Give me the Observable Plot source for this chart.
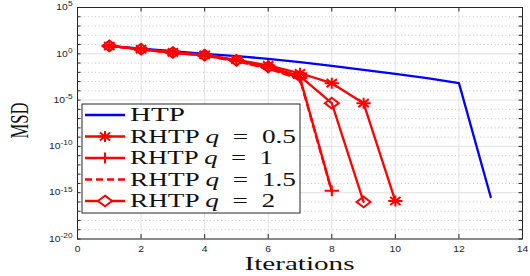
<!DOCTYPE html>
<html><head><meta charset="utf-8">
<script src="https://cdn.jsdelivr.net/npm/d3@7"></script>
<script src="https://cdn.jsdelivr.net/npm/@observablehq/plot@0.6"></script>
<style>html,body{margin:0;padding:0;background:#fff} #chart svg{display:block}</style>
</head><body><div id="chart"></div>
<script>
// ---- data (log10 of MSD) ----
const iterations = [1,2,3,4,5,6,7,8,9,10,11,12,13];
const htpLog     = [0.85,0.55,0.28,0.0,-0.25,-0.54,-0.9,-1.3,-1.73,-2.16,-2.63,-3.17,-15.47];
const rhtp05Log  = [0.85,0.5,0.15,-0.12,-0.65,-1.25,-2.1,-3.17,-5.33,-15.9];
const rhtp1Log   = [0.85,0.48,0.12,-0.18,-0.75,-1.5,-2.6,-14.8];
const rhtp15Log  = [0.85,0.46,0.1,-0.2,-0.8,-1.6,-2.75,-14.9];
const rhtp2Log   = [0.85,0.5,0.14,-0.15,-0.7,-1.4,-2.4,-5.33,-16.0];
const seriesNames = ["HTP","RHTP q = 0.5","RHTP q = 1","RHTP q = 1.5","RHTP q = 2"];
const xTicks = [0,2,4,6,8,10,12,14];
const yMajorExp = [5,0,-5,-10,-15,-20];
const yMinorExp = d3.range(5,-21,-1);
const xLabel = "Iterations";
const yLabel = "MSD";

const W = 530, H = 276, ml = 77, mr = 8, mt = 7, mb = 37.5;
const plotW = W - ml - mr, plotH = H - mt - mb;
const RED = "#ff0000", BLUE = "#0000ff", AX = "#262626";
const LW = 2.3, MW = 2;

function rows(vals, name){ return vals.map((v,i)=>({x: iterations[i], y: Math.pow(10, v), s: name})); }
const dHTP = rows(htpLog, seriesNames[0]);
const d05 = rows(rhtp05Log, seriesNames[1]);
const d1 = rows(rhtp1Log, seriesNames[2]);
const d15 = rows(rhtp15Log, seriesNames[3]);
const d2 = rows(rhtp2Log, seriesNames[4]);

const plot = Plot.plot({
  width: W, height: H,
  marginLeft: ml, marginRight: mr, marginTop: mt, marginBottom: mb,
  style: {background: "#fff", overflow: "visible"},
  x: {domain:[0,14], axis: null},
  y: {type:"log", domain:[1e-20,1e5], axis: null},
  marks: [
    Plot.ruleY(yMinorExp.filter(e => e % 5 !== 0).map(e => Math.pow(10,e)), {stroke:"#c4c4c4", strokeWidth:1, strokeDasharray:"1,2.6"}),
    Plot.ruleY(yMajorExp.map(e => Math.pow(10,e)), {stroke:"#e2e2e2", strokeWidth:1}),
    Plot.ruleX(xTicks, {stroke:"#e2e2e2", strokeWidth:1}),
    Plot.line(dHTP, {x:"x", y:"y", stroke: BLUE, strokeWidth: LW}),
    Plot.line(d15, {x:"x", y:"y", stroke: RED, strokeWidth: LW, strokeDasharray:"7,4"}),
    Plot.line(d1, {x:"x", y:"y", stroke: RED, strokeWidth: LW}),
    Plot.line(d2, {x:"x", y:"y", stroke: RED, strokeWidth: LW}),
    Plot.line(d05, {x:"x", y:"y", stroke: RED, strokeWidth: LW}),
    Plot.dot(d1, {x:"x", y:"y", symbol:"plus", r:3.63, stroke: RED, strokeWidth: MW}),
    Plot.dot(d2, {x:"x", y:"y", symbol:"diamond2", r:4.82, stroke: RED, fill:"none", strokeWidth: MW}),
    Plot.dot(d05, {x:"x", y:"y", symbol:"plus", r:3.63, stroke: RED, strokeWidth: MW}),
    Plot.dot(d05, {x:"x", y:"y", symbol:"times", r:3.72, stroke: RED, strokeWidth: MW}),
    Plot.frame({stroke: AX, strokeWidth: 1}),
    Plot.tickY(yMinorExp.map(e => Math.pow(10,e)), {stroke: AX, insetRight: plotW - 3.5}),
    Plot.tickY(yMinorExp.map(e => Math.pow(10,e)), {stroke: AX, insetLeft: plotW - 3.5}),
    Plot.tickX(xTicks, {stroke: AX, insetTop: plotH - 4.5}),
    Plot.tickX(xTicks, {stroke: AX, insetBottom: plotH - 4.5}),
    Plot.axisX(xTicks, {tickSize: 0, tickPadding: 6.5, fontSize: 8.5, fontFamily: "Liberation Sans", color: AX, label: null}),
    Plot.axisY(yMajorExp.map(e => Math.pow(10,e)), {tickSize: 0, tickPadding: 5, fontSize: 8.5, fontFamily: "Liberation Sans", color: AX, label: null,
      tickFormat: d => String(Math.round(Math.log10(d)))})
  ]
});
document.getElementById("chart").appendChild(plot);
const svg = d3.select(plot);

// y tick labels as 10^k
svg.selectAll('g[aria-label="y-axis tick label"] text').each(function(){
  const e = this.textContent;
  const t = d3.select(this);
  t.text(null);
  t.append("tspan").text("10");
  t.append("tspan").attr("dy","-0.55em").attr("font-size","6.8px").text(e);
  const L = this.getComputedTextLength();
  this.setAttribute("textLength", L*1.22);
  this.setAttribute("lengthAdjust","spacingAndGlyphs");
});
svg.selectAll('g[aria-label="x-axis tick label"] text').each(function(){
  const L = this.getComputedTextLength();
  this.setAttribute("textLength", L*1.22);
  this.setAttribute("lengthAdjust","spacingAndGlyphs");
});
// markers: stretched horizontally like the reference
svg.selectAll('g[aria-label="dot"] path').each(function(){
  this.setAttribute("transform", this.getAttribute("transform") + " scale(1.3,1)");
  this.setAttribute("vector-effect","non-scaling-stroke");
});

// axis titles
svg.append("text").attr("x", ml + plotW/2).attr("y", 269.5).attr("text-anchor","middle")
  .attr("font-family","Liberation Serif").attr("font-size",18).attr("fill","#111")
  .attr("textLength",110).attr("lengthAdjust","spacingAndGlyphs").text(xLabel);
svg.append("text").attr("transform","translate(28,120.5) rotate(-90)").attr("text-anchor","middle")
  .attr("font-family","Liberation Serif").attr("font-size",26).attr("fill","#111")
  .attr("textLength",36).attr("lengthAdjust","spacingAndGlyphs").text(yLabel);

// legend
const lg = svg.append("g").attr("text-anchor","start");
lg.append("rect").attr("x",82).attr("y",104).attr("width",218).attr("height",109)
  .attr("fill","#fff").attr("stroke",AX).attr("stroke-width",1);
const entryY = [115,136.5,158,179.5,201];
const textLen = [55,166,143,166,145];
const styles = [
  {stroke: BLUE, dash: null, sym: []},
  {stroke: RED, dash: null, sym: [[d3.symbolPlus, 3.63],[d3.symbolTimes, 3.72]]},
  {stroke: RED, dash: null, sym: [[d3.symbolPlus, 3.63]]},
  {stroke: RED, dash: "7,4", sym: []},
  {stroke: RED, dash: null, sym: [[d3.symbolDiamond2, 4.82]]}
];
seriesNames.forEach((name, i) => {
  const y = entryY[i], st = styles[i];
  lg.append("line").attr("x1",85).attr("x2",125).attr("y1",y).attr("y2",y)
    .attr("stroke",st.stroke).attr("stroke-width", LW).attr("stroke-dasharray", st.dash);
  st.sym.forEach(([type, r]) => {
    lg.append("path").attr("d", d3.symbol(type, r*r*Math.PI)())
      .attr("transform", `translate(105,${y}) scale(1.3,1)`).attr("fill", i===4 ? "#fff" : "none")
      .attr("stroke", RED).attr("stroke-width", MW).attr("vector-effect","non-scaling-stroke");
  });
  const t = lg.append("text").attr("x",130).attr("y", y + 6).attr("text-anchor","start").attr("font-family","Liberation Serif")
    .attr("font-size",18).attr("fill","#111").attr("textLength", textLen[i]).attr("lengthAdjust","spacingAndGlyphs");
  const m = name.match(/^(\S+)(?: (q)(.*))?$/);
  t.append("tspan").text(m[1]);
  if (m[2]) {
    t.append("tspan").text(" ");
    t.append("tspan").attr("font-style","italic").text(m[2]);
    t.append("tspan").text(m[3].replace("=", " = "));
  }
});
</script></body></html>
